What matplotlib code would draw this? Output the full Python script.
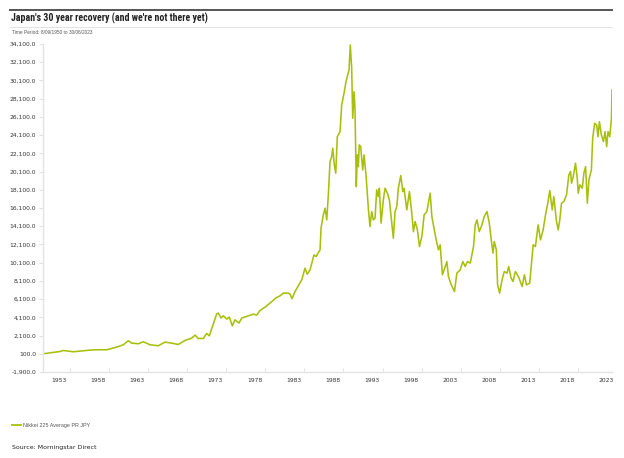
import numpy as np
import matplotlib
matplotlib.use('Agg')
import matplotlib.pyplot as plt

# ── Data (growth of 100 from Sep 1950) ────────────────────────────────────────

years = [
    1950.69, 1952.87, 1953.29, 1953.89, 1954.57, 1956.70, 1957.56, 1958.84,
    1960.12, 1960.97, 1961.60, 1962.04, 1962.88, 1963.52, 1964.38, 1965.44,
    1966.30, 1967.16, 1968.00, 1968.86, 1969.72, 1970.14, 1970.56, 1971.20,
    1971.64, 1971.97, 1972.92, 1973.12, 1973.47, 1973.76, 1974.20, 1974.53,
    1974.91, 1975.26, 1975.77, 1976.12, 1976.96, 1977.60, 1978.04, 1978.46,
    1979.10, 1979.74, 1980.51, 1981.02, 1981.44, 1982.08, 1982.30, 1982.55,
    1982.94, 1983.80, 1984.22, 1984.51, 1984.86, 1985.37, 1985.63, 1986.14,
    1986.27, 1986.56, 1986.78, 1987.00, 1987.20, 1987.42, 1987.63, 1987.76,
    1987.97, 1988.15, 1988.35, 1988.70, 1988.91, 1989.25, 1989.46, 1989.63,
    1989.85, 1990.01, 1990.19, 1990.32, 1990.49, 1990.61, 1990.78, 1990.91,
    1991.04, 1991.16, 1991.34, 1991.60, 1991.77, 1992.02, 1992.32, 1992.53,
    1992.75, 1992.96, 1993.18, 1993.39, 1993.60, 1993.73, 1993.95, 1994.24,
    1994.46, 1994.76, 1995.01, 1995.32, 1995.52, 1995.74, 1995.96, 1996.16,
    1996.47, 1996.73, 1996.89, 1997.24, 1997.58, 1997.88, 1998.09, 1998.31,
    1998.60, 1998.86, 1999.17, 1999.46, 1999.81, 2000.23, 2000.45, 2000.65,
    2001.00, 2001.29, 2001.51, 2001.80, 2002.02, 2002.37, 2002.57, 2002.88,
    2003.34, 2003.65, 2004.07, 2004.42, 2004.71, 2005.01, 2005.36, 2005.78,
    2006.00, 2006.22, 2006.51, 2006.86, 2007.15, 2007.50, 2007.80, 2008.05,
    2008.27, 2008.44, 2008.70, 2008.86, 2009.12, 2009.43, 2009.72, 2010.07,
    2010.28, 2010.59, 2010.84, 2011.14, 2011.56, 2012.00, 2012.29, 2012.55,
    2012.97, 2013.41, 2013.70, 2014.05, 2014.35, 2014.69, 2014.99, 2015.28,
    2015.54, 2015.85, 2016.05, 2016.40, 2016.62, 2016.82, 2017.04, 2017.34,
    2017.68, 2017.98, 2018.20, 2018.32, 2018.54, 2018.83, 2019.05, 2019.18,
    2019.39, 2019.70, 2019.90, 2020.12, 2020.34, 2020.55, 2020.86, 2021.03,
    2021.28, 2021.54, 2021.71, 2021.89, 2022.14, 2022.40, 2022.61, 2022.82,
    2022.99, 2023.21, 2023.43, 2023.50,
]

nikkei = [
    100, 350, 460, 400, 320, 500, 540, 540,
    835, 1090, 1530, 1270, 1200, 1420, 1090, 980,
    1380, 1270, 1120, 1560, 1820, 2150, 1780, 1780,
    2330, 2070, 4490, 4560, 4020, 4270, 3910, 4130,
    3170, 3830, 3470, 4020, 4270, 4450, 4350, 4850,
    5220, 5660, 6240, 6460, 6760, 6760, 6650, 6130,
    6930, 8220, 9500, 8840, 9310, 10960, 10770, 11510,
    13890, 15350, 16080, 14800, 17540, 21190, 21740, 22660,
    20830, 19920, 23930, 24480, 27410, 28870, 29970, 30520,
    31250, 33990, 31440, 25950, 28870, 27050, 18450, 21930,
    20640, 23020, 22840, 20280, 21930, 19730, 16080, 14060,
    15710, 14800, 14980, 18090, 17350, 18270, 14440, 16990,
    18270, 17730, 16990, 14440, 12790, 15710, 16260, 18270,
    19660, 17900, 18270, 15890, 17900, 15530, 13510, 14610,
    13700, 11870, 12970, 15350, 15710, 17730, 15160, 14250,
    12600, 11510, 12060, 8770, 9310, 10220, 8580, 7780,
    6930, 8950, 9310, 10220, 9680, 10220, 10050, 11870,
    14250, 14800, 13510, 14250, 15160, 15710, 14440, 12600,
    11150, 12420, 11510, 7670, 6760, 8220, 9130, 8950,
    9680, 8400, 8030, 9130, 8510, 7480, 8770, 7670,
    7850, 12060, 11870, 14250, 12600, 13700, 15350, 16630,
    18010, 15890, 17350, 14610, 13700, 14800, 16630, 16810,
    17540, 19730, 20100, 18820, 19550, 21020, 19370, 17730,
    18640, 18270, 19920, 20640, 16630, 19190, 20280, 23760,
    25400, 25220, 23930, 25580, 24120, 23390, 24480, 22840,
    24480, 23930, 25950, 29060,
]

y_ticks = np.arange(-1900, 34101, 2000)
x_label_years = list(range(1953, 2024, 5))

LINE = '#a8c00d'
AXIS_GREY = '#e3e3e3'
TEXT = '#333333'

# ── Figure ────────────────────────────────────────────────────────────────────

fig = plt.figure(figsize=(6.24, 4.58), dpi=100, facecolor='white')
ax = fig.add_axes([43 / 624, 1 - 372 / 458, 569 / 624, 328 / 458])

ax.plot(years, nikkei, color=LINE, lw=1.15, solid_joinstyle='round')

ax.set_xlim(1950.69, 2023.5)
ax.set_ylim(-1900, 34100)

ax.set_yticks(y_ticks)
ax.set_yticklabels([f'{v:,.1f}' for v in y_ticks])
ax.tick_params(axis='y', length=3, width=0.8, color=AXIS_GREY, pad=2,
               labelsize=4.3, labelcolor=TEXT)

# tick marks sit between the year labels
ax.set_xticks([1954.14 + 5 * k for k in range(14)])
ax.set_xticklabels([])
ax.set_xticks([y - 0.25 for y in x_label_years], minor=True)
ax.set_xticklabels([str(y) for y in x_label_years], minor=True)
ax.tick_params(axis='x', which='major', direction='in', length=3, width=0.8,
               color=AXIS_GREY)
ax.tick_params(axis='x', which='minor', length=0, pad=4, labelsize=4.3,
               labelcolor=TEXT)

for side in ['top', 'right']:
    ax.spines[side].set_visible(False)
for side in ['left', 'bottom']:
    ax.spines[side].set_color(AXIS_GREY)
    ax.spines[side].set_linewidth(1.0)

# ── Header / footer ───────────────────────────────────────────────────────────

fig.add_artist(plt.Line2D([10 / 624, 612 / 624], [1 - 10 / 458] * 2,
                          color='#555555', lw=1.4))
fig.add_artist(plt.Line2D([10 / 624, 612 / 624], [1 - 26.5 / 458] * 2,
                          color='#d8d8d8', lw=0.5))
fig.text(11 / 624, 1 - 18 / 458,
         "Japan's 30 year recovery (and we're not there yet)",
         family=['Roboto Condensed', 'Liberation Sans'], fontweight='bold',
         fontsize=7.1, color='#222222', va='center')
fig.text(12 / 624, 1 - 33 / 458, 'Time Period: 8/09/1950 to 30/06/2023',
         family='Liberation Sans', fontsize=3.4, color='#555555', va='center')

fig.add_artist(plt.Line2D([12 / 624, 21 / 624], [1 - 425 / 458] * 2,
                          color=LINE, lw=1.3))
fig.text(23 / 624, 1 - 425 / 458, 'Nikkei 225 Average PR JPY',
         family='Liberation Sans', fontsize=3.9, color='#555555', va='center')
fig.text(12 / 624, 1 - 448 / 458, 'Source: Morningstar Direct',
         fontsize=4.5, color='#222222', va='center')

plt.savefig('out.png', dpi=100, facecolor='white')
